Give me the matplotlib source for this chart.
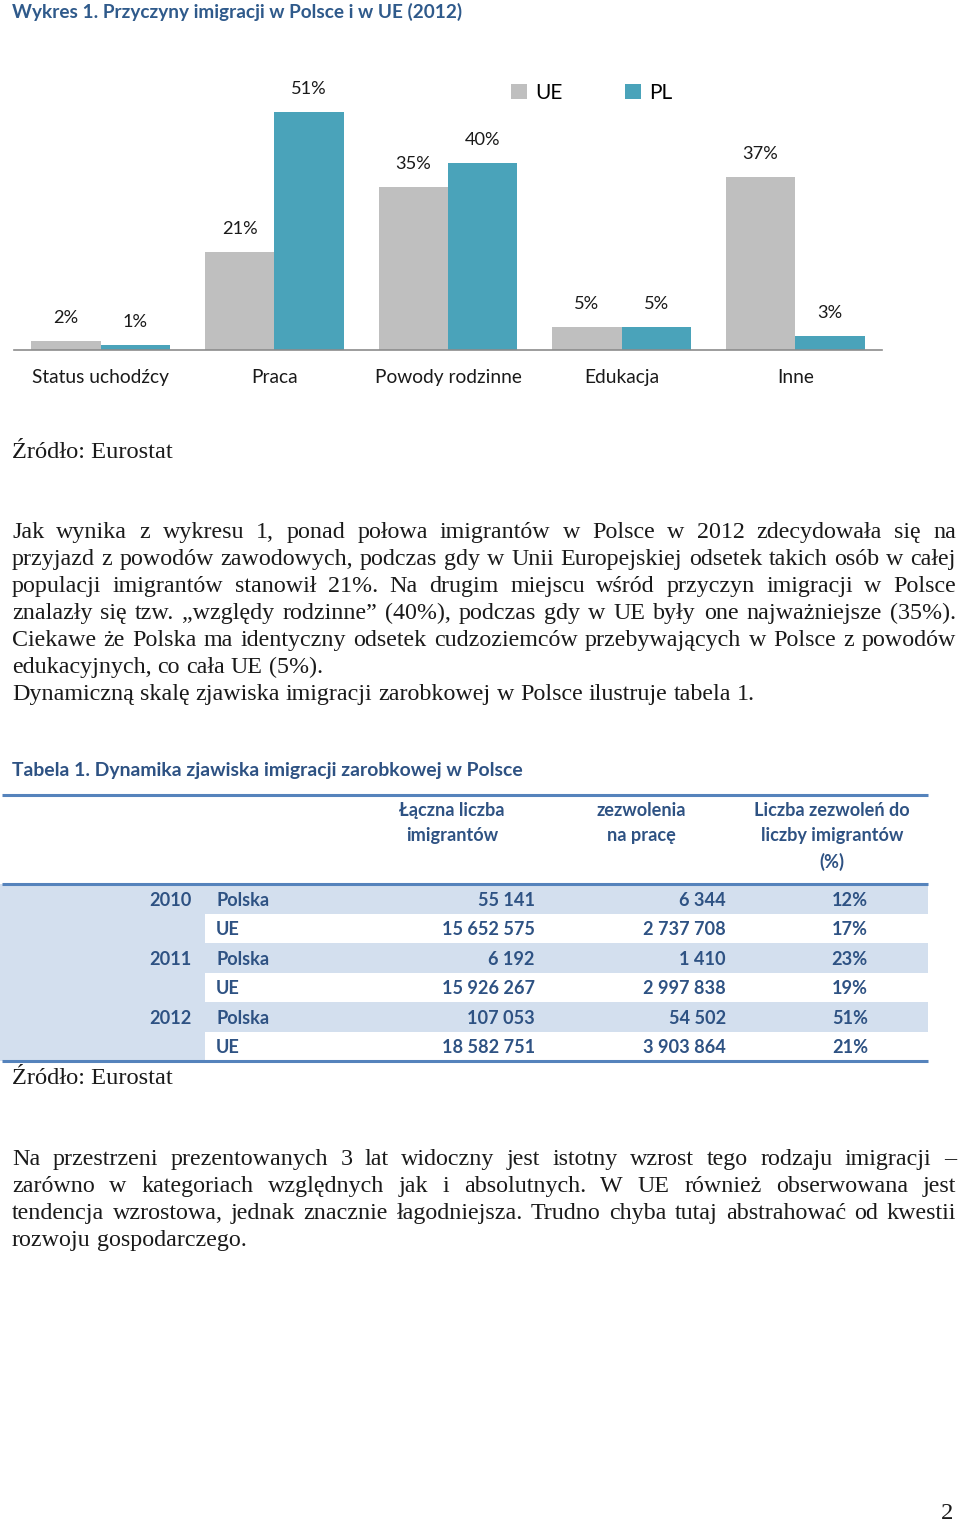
import matplotlib
matplotlib.use("Agg")
import matplotlib.pyplot as plt
import numpy as np
from matplotlib.patches import Rectangle

W, H = 960, 1524

# ---------------- data ----------------
categories = ["Status uchodźcy", "Praca", "Powody rodzinne", "Edukacja", "Inne"]
ue_values = [2, 21, 35, 5, 37]
pl_values = [1, 51, 40, 5, 3]
series_names = ["UE", "PL"]

table_header = ["Łączna liczba\nimigrantów", "zezwolenia\nna pracę",
                "Liczba zezwoleń do\nliczby imigrantów\n(%)"]
table_years = ["2010", "", "2011", "", "2012", ""]
table_regions = ["Polska", "UE", "Polska", "UE", "Polska", "UE"]
table_immigrants = ["55 141", "15 652 575", "6 192", "15 926 267", "107 053", "18 582 751"]
table_permits = ["6 344", "2 737 708", "1 410", "2 997 838", "54 502", "3 903 864"]
table_share = ["12%", "17%", "23%", "19%", "51%", "21%"]

chart_title = "Wykres 1. Przyczyny imigracji w Polsce i w UE (2012)"
table_title = "Tabela 1. Dynamika zjawiska imigracji zarobkowej w Polsce"
source = "Źródło: Eurostat"

para1 = [
    ("Jak wynika z wykresu 1, ponad połowa imigrantów w Polsce w 2012 zdecydowała się na", True),
    ("przyjazd z powodów zawodowych, podczas gdy w Unii Europejskiej odsetek takich osób w całej", True),
    ("populacji imigrantów stanowił 21%. Na drugim miejscu wśród przyczyn imigracji w Polsce", True),
    ("znalazły się tzw. „względy rodzinne” (40%), podczas gdy w UE  były one najważniejsze (35%).", True),
    ("Ciekawe że Polska ma identyczny odsetek cudzoziemców przebywających w Polsce z powodów", True),
    ("edukacyjnych, co cała UE (5%).", False),
    ("Dynamiczną skalę zjawiska imigracji zarobkowej w Polsce ilustruje tabela 1.", False),
]
para2 = [
    ("Na przestrzeni prezentowanych 3 lat widoczny jest istotny wzrost tego rodzaju imigracji –", True),
    ("zarówno w kategoriach względnych jak i absolutnych. W UE również obserwowana jest", True),
    ("tendencja wzrostowa, jednak znacznie łagodniejsza.  Trudno chyba tutaj abstrahować od kwestii", True),
    ("rozwoju gospodarczego.", False),
]

# ---------------- styles ----------------
SANS = ["Lato", "DejaVu Sans"]
SERIF = ["Liberation Serif", "DejaVu Serif"]
GREY = "#BFBFBF"
TEAL = "#4AA3BA"
TITLE_BLUE = "#2F5A8B"
TAB_BLUE = "#2E5283"
RULE = "#5583BC"
SHADE = "#D3DFEE"
INK = "#1A1A1A"

fig = plt.figure(figsize=(W / 100, H / 100), dpi=100)
page = fig.add_axes([0, 0, 1, 1])
page.set_xlim(0, W)
page.set_ylim(H, 0)
page.axis("off")
renderer = fig.canvas.get_renderer()


def text_width(s, size, family, weight="normal"):
    t = page.text(0, 0, s, fontsize=size, family=family, weight=weight)
    w = t.get_window_extent(renderer).width
    t.remove()
    return w


def fit(s, target, family, weight="normal"):
    return 10 * target / text_width(s, 10, family, weight)


def put(x, y, s, size, family, weight="normal", color=INK, ha="left", **kw):
    page.text(x, y, s, fontsize=size, family=family, weight=weight, color=color,
              ha=ha, va="center_baseline", **kw)


def paragraph(lines, y0, dy, size, family, x0=12, x1=956):
    space = text_width("a a", size, family) - text_width("aa", size, family)
    for i, (line, just) in enumerate(lines):
        y = y0 + i * dy
        words = line.split()
        s = size
        widths = [text_width(w, s, family) for w in words]
        if just and len(words) > 1:
            gap = (x1 - x0 - sum(widths)) / (len(words) - 1)
            if gap < 0.55 * space:
                scale = (x1 - x0 - 0.55 * space * (len(words) - 1)) / sum(widths)
                s = size * scale
                widths = [text_width(w, s, family) for w in words]
                gap = (x1 - x0 - sum(widths)) / (len(words) - 1)
        else:
            gap = space
        x = x0
        for w, wd in zip(words, widths):
            put(x, y, w, s, family)
            x += wd + gap


# ---------------- chart title ----------------
put(12, 10, chart_title, fit(chart_title, 451, SANS, "bold"), SANS, "bold", TITLE_BLUE)

# ---------------- bar chart ----------------
ax = fig.add_axes([14 / W, 1 - 350 / H, 868 / W, 280 / H])
x = np.arange(len(categories))
bw = 0.4
b1 = ax.bar(x - bw / 2, ue_values, bw, color=GREY, label=series_names[0])
b2 = ax.bar(x + bw / 2, pl_values, bw, color=TEAL, label=series_names[1])
ax.set_xlim(-0.5, len(categories) - 0.5)
ax.set_ylim(0, 60)
ax.set_yticks([])
lab_size = fit("51%", 36, SANS)
cat_size = fit("Status uchodźcy", 137, SANS)
for bars in (b1, b2):
    for rect in bars:
        h = rect.get_height()
        ax.annotate(f"{h:.0f}%", (rect.get_x() + rect.get_width() / 2, h),
                    xytext=(0, 16.5), textcoords="offset points",
                    ha="center", va="center", fontsize=lab_size, family=SANS, color=INK)
ax.set_xticks(x)
ax.set_xticklabels(categories, fontsize=cat_size, family=SANS, color=INK)
ax.tick_params(axis="x", length=0, pad=14)
for sp in ("top", "left", "right"):
    ax.spines[sp].set_visible(False)
ax.spines["bottom"].set_color("#8C8C8C")
ax.spines["bottom"].set_linewidth(1.2)
ax.patch.set_alpha(0)
leg_size = fit("UE", 27, SANS)
fig.legend(handles=[b1, b2], labels=series_names, loc="center left",
           bbox_to_anchor=(503 / W, 1 - 93 / H), ncol=2, frameon=False,
           prop={"family": SANS, "size": leg_size},
           handlelength=0.75, handleheight=0.75, handletextpad=0.4,
           columnspacing=3.0, borderaxespad=0)

# ---------------- source ----------------
src_size = fit(source, 161, SERIF)
put(12, 450, source, src_size, SERIF)

# ---------------- paragraph 1 ----------------
body_size = fit(para1[6][0], 742, SERIF)
paragraph(para1, 530, 27, body_size, SERIF)

# ---------------- table ----------------
put(12, 769, table_title, fit(table_title, 511, SANS, "bold"), SANS, "bold", TAB_BLUE)

row_top = 884
row_h = 29.5
n = len(table_regions)
for i in range(n):
    y = row_top + i * row_h
    if table_regions[i] == "Polska":
        page.add_patch(Rectangle((0, y), 928, row_h, color=SHADE, lw=0))
    else:
        page.add_patch(Rectangle((0, y), 205, row_h, color=SHADE, lw=0))
for yy in (795, row_top, row_top + n * row_h):
    page.plot([2, 928], [yy, yy], color=RULE, lw=2.2, solid_capstyle="butt")

tab_size = fit("15 652 575", 93, SANS, "bold")
hdr_x = [452, 641, 832]
for hx, h in zip(hdr_x, table_header):
    for j, ln in enumerate(h.split("\n")):
        put(hx, 809 + j * 25.5, ln, tab_size, SANS, "bold", TAB_BLUE, ha="center")

for i in range(n):
    yc = row_top + i * row_h + row_h / 2
    if table_years[i]:
        put(192, yc, table_years[i], tab_size, SANS, "bold", TAB_BLUE, ha="right")
    put(216, yc, table_regions[i], tab_size, SANS, "bold", TAB_BLUE, ha="left")
    put(535, yc, table_immigrants[i], tab_size, SANS, "bold", TAB_BLUE, ha="right")
    put(726, yc, table_permits[i], tab_size, SANS, "bold", TAB_BLUE, ha="right")
    put(868, yc, table_share[i], tab_size, SANS, "bold", TAB_BLUE, ha="right")

put(12, 1076, source, src_size, SERIF)

# ---------------- paragraph 2 ----------------
paragraph(para2, 1157, 27, body_size, SERIF)

# ---------------- page number ----------------
put(953, 1511, "2", src_size, SERIF, ha="right")

fig.savefig("out.png", dpi=100)
